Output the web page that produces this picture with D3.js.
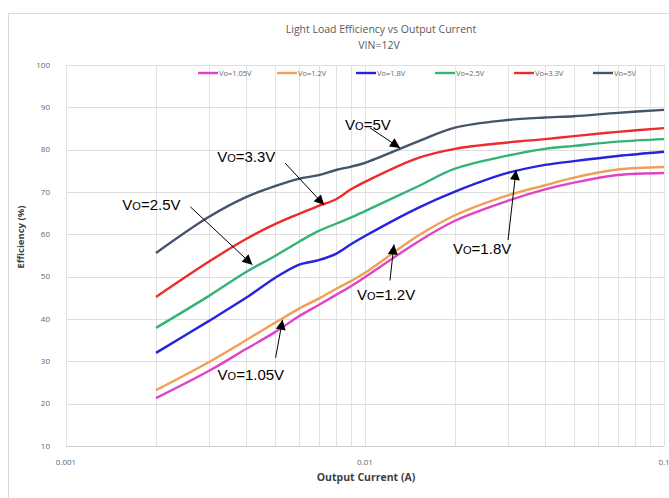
<!DOCTYPE html>
<html>
<head>
<meta charset="utf-8">
<script src="https://cdn.jsdelivr.net/npm/d3@7"></script>
<style>
  body { margin: 0; background: #fff; }
  svg { display: block; }
</style>
</head>
<body>
<div id="chart"></div>
<script>
// Output current (A)
var currents = [0.002, 0.003, 0.004, 0.005, 0.006, 0.007, 0.008, 0.009, 0.01, 0.015, 0.02, 0.03, 0.04, 0.05, 0.07, 0.1];

// Efficiency (%) for each output voltage
var eff105 = [21.3, 27.7, 32.9, 36.9, 40.6, 43.3, 45.7, 47.8, 49.9, 58.2, 63.2, 67.9, 70.6, 72.2, 74.0, 74.5];
var eff12  = [23.2, 29.8, 35.0, 39.1, 42.4, 44.8, 47.1, 49.0, 50.9, 59.6, 64.5, 69.2, 71.6, 73.4, 75.3, 75.9];
var eff18  = [32.0, 39.5, 45.0, 49.7, 52.8, 53.9, 55.4, 57.7, 59.6, 66.2, 70.1, 74.5, 76.4, 77.3, 78.5, 79.5];
var eff25  = [37.9, 45.4, 51.1, 54.9, 58.2, 60.8, 62.5, 64.0, 65.5, 71.3, 75.5, 78.6, 80.2, 80.9, 81.9, 82.5];
var eff33  = [45.2, 53.5, 58.9, 62.4, 64.8, 66.7, 68.3, 70.7, 72.4, 78.0, 80.2, 81.7, 82.5, 83.2, 84.2, 85.1];
var eff5   = [55.6, 64.1, 68.8, 71.4, 73.1, 74.0, 75.2, 76.0, 76.9, 81.9, 85.2, 87.0, 87.6, 87.9, 88.7, 89.4];

var seriesNames = ["Vo=1.05V", "Vo=1.2V", "Vo=1.8V", "Vo=2.5V", "Vo=3.3V", "Vo=5V"];
var seriesValues = [eff105, eff12, eff18, eff25, eff33, eff5];
var seriesColors = ["#e043c8", "#f0a055", "#2323e0", "#33b374", "#ee2b2b", "#44546a"];

var yTicks = [10, 20, 30, 40, 50, 60, 70, 80, 90, 100];
var xTickLabels = [0.001, 0.01, 0.1];

// Callout labels: where the arrow points (current, efficiency)
var calloutVo = ["5V", "3.3V", "2.5V", "1.2V", "1.8V", "1.05V"];
var calloutAt = [[0.0131, 80.4], [0.0073, 66.9], [0.0042, 52.8], [0.0125, 57.6], [0.032, 75.2], [0.0053, 39.8]];

// Chart size
var width = 669, height = 498;
var margin = { top: 65, right: 5, bottom: 52, left: 66 };

var svg = d3.select("#chart").append("svg")
    .attr("width", width)
    .attr("height", height);

// Outer chart border
svg.append("rect")
    .attr("x", 8.5).attr("y", 13.5)
    .attr("width", 700).attr("height", 520)
    .attr("fill", "#fff")
    .attr("stroke", "#d9d9d9");

var x = d3.scaleLog()
    .domain([0.001, 0.1])
    .range([margin.left, width - margin.right]);

var y = d3.scaleLinear()
    .domain([10, 100])
    .range([height - margin.bottom, margin.top]);

// Grid lines
svg.append("g").selectAll("line")
    .data(x.ticks())
    .enter().append("line")
    .attr("x1", d => Math.round(x(d)) + 0.5)
    .attr("x2", d => Math.round(x(d)) + 0.5)
    .attr("y1", y(100))
    .attr("y2", y(10))
    .attr("stroke", "#e3e3e3");

svg.append("g").selectAll("line")
    .data(yTicks)
    .enter().append("line")
    .attr("x1", x(0.001))
    .attr("x2", x(0.1))
    .attr("y1", d => Math.round(y(d)) + 0.5)
    .attr("y2", d => Math.round(y(d)) + 0.5)
    .attr("stroke", d => d === 10 ? "#cfcfcf" : "#dedede");

// Tick labels
svg.append("g").selectAll("text")
    .data(yTicks)
    .enter().append("text")
    .attr("x", x(0.001) - 16)
    .attr("y", d => y(d))
    .attr("dy", "0.35em")
    .attr("text-anchor", "end")
    .style("font-family", "Open Sans, sans-serif")
    .style("font-size", "8px")
    .style("fill", "#666")
    .text(d => d);

svg.append("g").selectAll("text")
    .data(xTickLabels)
    .enter().append("text")
    .attr("x", d => x(d))
    .attr("y", y(10) + 19)
    .attr("text-anchor", "middle")
    .style("font-family", "Open Sans, sans-serif")
    .style("font-size", "8px")
    .style("fill", "#666")
    .text(d => d);

// Titles
svg.append("text")
    .attr("x", 381).attr("y", 33)
    .attr("text-anchor", "middle")
    .style("font-family", "Open Sans, sans-serif")
    .style("font-size", "10.5px")
    .style("fill", "#595959")
    .text("Light Load Efficiency vs Output Current");

svg.append("text")
    .attr("x", 379).attr("y", 49)
    .attr("text-anchor", "middle")
    .style("font-family", "Open Sans, sans-serif")
    .style("font-size", "10.5px")
    .style("fill", "#595959")
    .text("VIN=12V");

svg.append("text")
    .attr("x", 366).attr("y", 481)
    .attr("text-anchor", "middle")
    .style("font-family", "Open Sans, sans-serif")
    .style("font-size", "10.5px")
    .style("font-weight", "bold")
    .style("fill", "#404040")
    .text("Output Current (A)");

svg.append("text")
    .attr("transform", "translate(24,237) rotate(-90)")
    .attr("text-anchor", "middle")
    .style("font-family", "Open Sans, sans-serif")
    .style("font-size", "9.5px")
    .style("font-weight", "bold")
    .style("fill", "#404040")
    .text("Efficiency (%)");

// Lines (smoothed like the spreadsheet chart)
var line = d3.line()
    .x((d, i) => x(currents[i]))
    .y(d => y(d))
    .curve(d3.curveCatmullRom.alpha(0.5));

svg.append("g").selectAll("path")
    .data(seriesValues)
    .enter().append("path")
    .attr("d", d => line(d))
    .attr("fill", "none")
    .attr("stroke", (d, i) => seriesColors[i])
    .attr("stroke-width", 2.4);

// Legend
var legend = svg.append("g").selectAll("g")
    .data(seriesNames)
    .enter().append("g")
    .attr("transform", (d, i) => "translate(" + (198 + i * 79) + ",73)");

legend.append("line")
    .attr("x1", 0).attr("x2", 20)
    .attr("stroke", (d, i) => seriesColors[i])
    .attr("stroke-width", 2.4);

legend.append("text")
    .attr("x", 21)
    .attr("dy", "0.35em")
    .style("font-family", "Open Sans, sans-serif")
    .style("font-size", "7.5px")
    .style("fill", "#666")
    .text(d => d);

// Arrow marker
svg.append("defs").append("marker")
    .attr("id", "arrow")
    .attr("viewBox", "0 0 10 10")
    .attr("refX", 10).attr("refY", 5)
    .attr("markerWidth", 12).attr("markerHeight", 10)
    .attr("markerUnits", "userSpaceOnUse")
    .attr("orient", "auto")
    .append("path")
    .attr("d", "M0,0L10,5L0,10Z")
    .attr("fill", "#000");

// Callouts: tail and text offsets relative to arrow tip (px)
var tailOffset = [[-30, -20], [-39, -42], [-62, -58], [-4, 36], [-8, 70], [-7, 38]];
var textOffset = [[-55, -18], [-107, -43], [-130, -55], [-37, 56], [-63, 84], [-65, 60]];

calloutAt.forEach(function (p, i) {
    var tx = x(p[0]), ty = y(p[1]);
    svg.append("line")
        .attr("x1", tx + tailOffset[i][0]).attr("y1", ty + tailOffset[i][1])
        .attr("x2", tx).attr("y2", ty)
        .attr("stroke", "#000")
        .attr("stroke-width", 1)
        .attr("marker-end", "url(#arrow)");

    var t = svg.append("text")
        .attr("x", tx + textOffset[i][0]).attr("y", ty + textOffset[i][1])
        .style("font-family", "Liberation Sans, Arial, sans-serif")
        .style("font-size", "15px")
        .style("fill", "#000");
    t.append("tspan").text("V");
    t.append("tspan").style("font-size", "11px").text("O");
    t.append("tspan").text("=" + calloutVo[i]);
});
</script>
</body>
</html>
